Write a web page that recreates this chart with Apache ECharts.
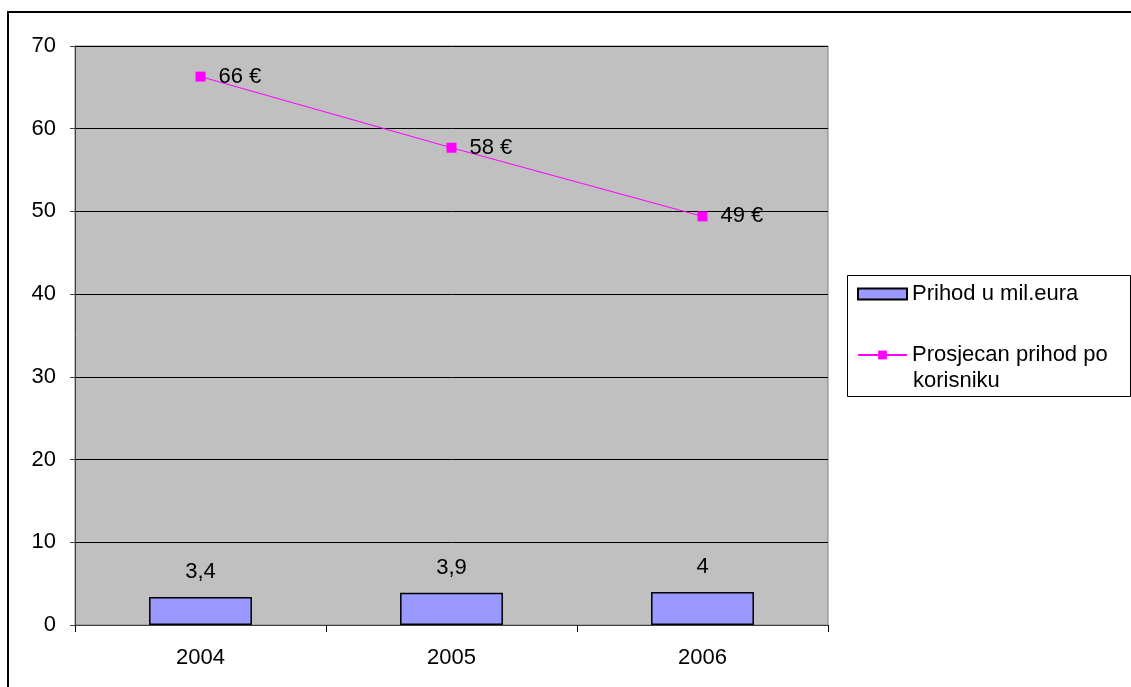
<!DOCTYPE html>
<html>
<head>
<meta charset="utf-8">
<script src="https://cdn.jsdelivr.net/npm/echarts@6/dist/echarts.min.js"></script>
<style>
html,body{margin:0;padding:0;background:#fff;}
#chart{width:1131px;height:687px;}
</style>
</head>
<body>
<div id="chart"></div>
<script>
var categories = ['2004', '2005', '2006'];
var revenueMillions = [3.4, 3.9, 4];
var avgRevenuePerUser = [66.3, 57.7, 49.4];
var seriesNames = ['Prihod u mil.eura', 'Prosjecan prihod po korisniku'];

var FONT = 'Liberation Sans, Arial, sans-serif';
var FS = 22;
var chart = echarts.init(document.getElementById('chart'), null, {renderer: 'canvas'});
chart.setOption({
  animation: false,
  backgroundColor: '#ffffff',
  grid: {left: 75, top: 46, right: 303, bottom: 62, show: true, backgroundColor: '#C0C0C0', borderColor: '#808080', borderWidth: 1},
  xAxis: {
    type: 'category', data: categories, boundaryGap: true,
    axisLine: {lineStyle: {color: '#404040', width: 1}},
    axisTick: {show: true, length: 7, alignWithLabel: false, lineStyle: {color: '#000'}},
    axisLabel: {color: '#000', fontFamily: FONT, fontSize: FS, margin: 22}
  },
  yAxis: {
    type: 'value', min: 0, max: 70, interval: 10,
    axisLine: {show: true, lineStyle: {color: '#404040', width: 1}},
    axisTick: {show: true, length: 5, lineStyle: {color: '#404040'}},
    axisLabel: {color: '#000', fontFamily: FONT, fontSize: FS, margin: 19},
    splitLine: {show: true, lineStyle: {color: '#000', width: 1}}
  },
  legend: {
    orient: 'vertical', left: 857, top: 283, itemGap: 39, padding: 0,
    itemWidth: 49, itemHeight: 11,
    textStyle: {color: '#000', fontFamily: FONT, fontSize: FS},
    formatter: function (n) { return n === seriesNames[1] ? 'Prosjecan prihod po' : n; },
    data: [{name: seriesNames[0], icon: 'rect'}, {name: seriesNames[1]}]
  },
  graphic: [
    {type: 'rect', shape: {x: 8, y: 12, width: 1200, height: 800}, style: {fill: 'none', stroke: '#000', lineWidth: 2}, silent: true},
    {type: 'rect', shape: {x: 847.5, y: 275.5, width: 283, height: 121}, style: {fill: 'none', stroke: '#000', lineWidth: 1}, silent: true},
    {type: 'text', left: 913, top: 370, silent: true, style: {text: 'korisniku', fill: '#000', font: FS + 'px ' + FONT}}
  ],
  series: [
    {
      name: seriesNames[0], type: 'bar', data: revenueMillions, barWidth: '41%',
      itemStyle: {color: '#9999FF', borderColor: '#000', borderWidth: 1.5},
      label: {show: true, position: 'top', distance: 14, color: '#000', fontFamily: FONT, fontSize: FS,
        formatter: function (p) { return String(p.value).replace('.', ','); }}
    },
    {
      name: seriesNames[1], type: 'line', data: avgRevenuePerUser,
      symbol: 'rect', symbolSize: 10,
      lineStyle: {color: '#FF00FF', width: 1},
      itemStyle: {color: '#FF00FF'},
      label: {show: true, position: 'right', distance: 13, color: '#000', fontFamily: FONT, fontSize: FS,
        formatter: function (p) { return Math.round(p.value) + ' €'; }}
    }
  ]
});
</script>
</body>
</html>
